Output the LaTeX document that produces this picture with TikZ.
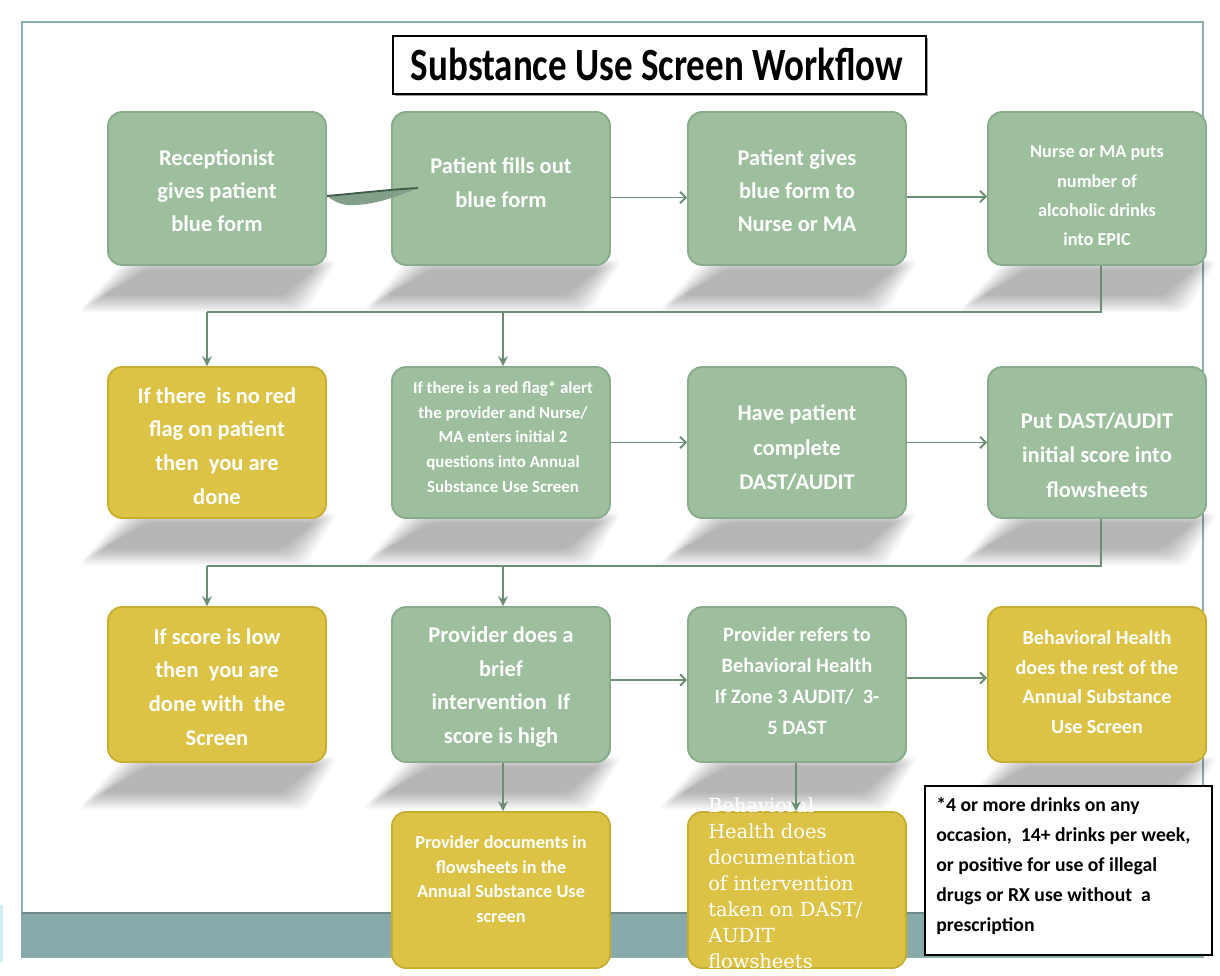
\documentclass[tikz,border=0pt]{standalone}
\usepackage{fontspec}
\usepackage{graphicx}
\setmainfont{Carlito}
\newfontfamily\serifN{DejaVu Serif}
\usetikzlibrary{arrows.meta,calc}
\definecolor{boxgreen}{HTML}{9DBF9E}
\definecolor{boxgreenedge}{HTML}{88AC8B}
\definecolor{boxyellow}{HTML}{DCC346}
\definecolor{boxyellowedge}{HTML}{C7AD30}
\definecolor{linkgreen}{HTML}{6C8F74}
\definecolor{linkdark}{HTML}{3F5C48}
\definecolor{frameteal}{HTML}{8DAEAE}
\definecolor{bandteal}{HTML}{88AAAA}
\definecolor{edgecyan}{HTML}{CFEFF7}
\newcommand{\boxshadow}[3]{%
  \foreach \s in {-8,-6,...,16}{%
    \fill[black, opacity=0.024, rounded corners=5pt] ({#1+24+\s},{#3-2+\s*0.4}) -- ({#2+4-\s},{#3-2+\s*0.4}) -- ({#2-28-\s},{#3+42-\s*0.7}) -- ({#1-22+\s},{#3+42-\s*0.7}) -- cycle;
  }%
}
\begin{document}
\begin{tikzpicture}[x=0.025cm,y=-0.025cm,
  gbox/.style={draw=boxgreenedge, line width=1.3pt, fill=boxgreen, rounded corners=10pt, minimum width=5.45cm, inner sep=0pt},
  ybox/.style={draw=boxyellowedge, line width=1.3pt, fill=boxyellow, rounded corners=10pt, minimum width=5.45cm, inner sep=0pt},
  row1/.style={minimum height=3.825cm},
  row2/.style={minimum height=3.775cm},
  row3/.style={minimum height=3.875cm},
  row4/.style={minimum height=3.9cm},
  btxt/.style={text=white, align=center, inner sep=0pt},
  link/.style={draw=linkgreen, line width=1.4pt},
  htip/.style={-{Straight Barb[length=4pt,width=8pt,line width=1.4pt]}},
  vtip/.style={-{Stealth[length=7pt,width=7pt]}},
]
\useasboundingbox (0,0) rectangle (1220,975);
\fill[white] (0,0) rectangle (1220,975);
\fill[edgecyan] (0,905) rectangle (3,962);
% frame and band
\draw[frameteal, line width=1.5pt] (22,22) rectangle (1203,957);
\fill[bandteal] (22,913) rectangle (1203,957);
\draw[frameteal!80!black, line width=0.8pt] (22,913) -- (1203,913);

% title
\fill[black!40] (395,38) rectangle (928,96);
\node[draw=black, line width=1.6pt, fill=white, minimum width=13.325cm, minimum height=1.45cm] (title) at (659.5,65) {};
\node (titletext) at (657,64) {\scalebox{1}[1.25]{\fontsize{26.3}{30}\selectfont\bfseries Substance Use Screen Workflow}};

% shadows
\boxshadow{108}{326}{265}\boxshadow{392}{610}{265}\boxshadow{688}{906}{265}\boxshadow{988}{1206}{265}
\boxshadow{108}{326}{518}\boxshadow{392}{610}{518}\boxshadow{688}{906}{518}\boxshadow{988}{1206}{518}
\boxshadow{108}{326}{762}\boxshadow{392}{610}{762}\boxshadow{688}{906}{762}\boxshadow{988}{1206}{762}

% row 1
\node[gbox,row1] (A) at (217,188.5) {};
\node[gbox,row1] (B) at (501,188.5) {};
\node[gbox,row1] (C) at (797,188.5) {};
\node[gbox,row1] (D) at (1097,188.5) {};
% row 2
\node[ybox,row2] (E) at (217,442.5) {};
\node[gbox,row2] (F) at (501,442.5) {};
\node[gbox,row2] (G) at (797,442.5) {};
\node[gbox,row2] (H) at (1097,442.5) {};
% row 3
\node[ybox,row3] (I) at (217,684.5) {};
\node[gbox,row3] (J) at (501,684.5) {};
\node[gbox,row3] (K) at (797,684.5) {};
\node[ybox,row3] (L) at (1097,684.5) {};
% row 4
\node[ybox,row4] (M) at (501,890) {};
\node[ybox,row4] (N) at (797,890) {};

% texts
\node[btxt, font=\fontsize{16}{23.5}\selectfont\bfseries] (At) at (217,191) {Receptionist\\gives patient\\blue form};
\node[btxt, font=\fontsize{16}{24}\selectfont\bfseries] (Bt) at (501,183) {Patient fills out\\blue form};
\node[btxt, font=\fontsize{16}{23.5}\selectfont\bfseries] (Ct) at (797,191) {Patient gives\\blue form to\\Nurse or MA};
\node[btxt, font=\fontsize{13}{20.8}\selectfont\bfseries] (Dt) at (1097,196) {Nurse or MA puts\\number of\\alcoholic drinks\\into EPIC};
\node[btxt, font=\fontsize{16}{24}\selectfont\bfseries] (Et) at (217,446) {If there\ \ is no red\\flag on patient\\then\ \ you are\\done};
\node[btxt, font=\fontsize{12}{17.7}\selectfont\bfseries] (Ft) at (503,437) {If there is a red flag* alert\\the provider and Nurse/\\MA enters initial 2\\questions into Annual\\Substance Use Screen};
\node[btxt, font=\fontsize{16}{24.5}\selectfont\bfseries] (Gt) at (797,448) {Have patient\\complete\\DAST/AUDIT};
\node[btxt, font=\fontsize{16}{24.5}\selectfont\bfseries] (Ht) at (1097,455) {Put DAST/AUDIT\\initial score into\\flowsheets};
\node[btxt, font=\fontsize{16}{24}\selectfont\bfseries] (It) at (217,687) {If score is low\\then\ \ you are\\done with\ \ the\\Screen};
\node[btxt, font=\fontsize{16}{24}\selectfont\bfseries] (Jt) at (501,687) {Provider does a\\brief\\intervention\ \ If\\score is high};
\node[btxt, font=\fontsize{14.5}{22}\selectfont\bfseries] (Kt) at (797,681) {Provider refers to\\Behavioral Health\\If Zone 3 AUDIT/\ \ 3-\\5 DAST};
\node[btxt, font=\fontsize{14.3}{21}\selectfont\bfseries] (Lt) at (1097,682) {Behavioral Health\\does the rest of the\\Annual Substance\\Use Screen};
\node[btxt, font=\fontsize{13}{17.5}\selectfont\bfseries] (Mt) at (501,879) {Provider documents in\\flowsheets in the\\Annual Substance Use\\screen};
\node[text=white, align=left, inner sep=0pt, anchor=north west, font=\serifN\fontsize{13.8}{18.5}\selectfont] (Nt) at (708,797) {Behavioral\\Health does\\documentation\\of intervention\\taken on DAST/\\AUDIT\\flowsheets};

% note box
\node[draw=black, line width=1.6pt, fill=white, minimum width=7.175cm, minimum height=4.225cm] (note) at (1068.5,870.5) {};
\node[align=left, inner sep=0pt, anchor=west, font=\fontsize{14}{21.3}\selectfont\bfseries] (notet) at (936,866) {*4 or more drinks on any\\occasion,\ \ 14+ drinks per week,\\or positive for use of illegal\\drugs or RX use without\ \ a\\prescription};

% connectors
\coordinate (abS) at ([yshift=-5.3pt]A.east);
\coordinate (abE) at ([xshift=19pt,yshift=0.3pt]B.west);
\fill[linkgreen!85] (abS) .. controls (360,193) and (395,189) .. (abE) .. controls (400,195) and (375,206) .. (348,205) .. controls (338,204) and (332,200) .. (abS) -- cycle;
\draw[linkdark, line width=1.3pt] (abS) .. controls (360,193) and (395,189) .. (abE);

\draw[link,htip] ([yshift=-6.4pt]B.east) -- ([yshift=-6.4pt]C.west);
\draw[link,htip] ([yshift=-5.7pt]C.east) -- ([yshift=-5.7pt]D.west);

\coordinate (Dout) at ([xshift=2.8pt]D.south);
\coordinate (r1L) at (207,312);
\coordinate (r1M) at (503,312);
\draw[link] (Dout) |- (r1L);
\draw[link,vtip] (r1L) -- (r1L |- E.north);
\draw[link,vtip] (r1M) -- (r1M |- F.north);

\draw[link,htip] (F.east) -- (G.west);
\draw[link,htip] (G.east) -- (H.west);

\coordinate (Hout) at ([xshift=2.8pt]H.south);
\coordinate (r2L) at (207,566);
\coordinate (r2M) at (503,566);
\draw[link] (Hout) |- (r2L);
\draw[link,vtip] (r2L) -- (r2L |- I.north);
\draw[link,vtip] (r2M) -- (r2M |- J.north);

\draw[link,htip] ([yshift=3.2pt]J.east) -- ([yshift=3.2pt]K.west);
\draw[link,htip] ([yshift=4.6pt]K.east) -- ([yshift=4.6pt]L.west);

\draw[link,vtip] ([xshift=1.4pt]J.south) -- ([xshift=1.4pt]M.north);
\draw[link,vtip] ([xshift=-0.7pt]K.south) -- ([xshift=-0.7pt]N.north);
\end{tikzpicture}
\end{document}
